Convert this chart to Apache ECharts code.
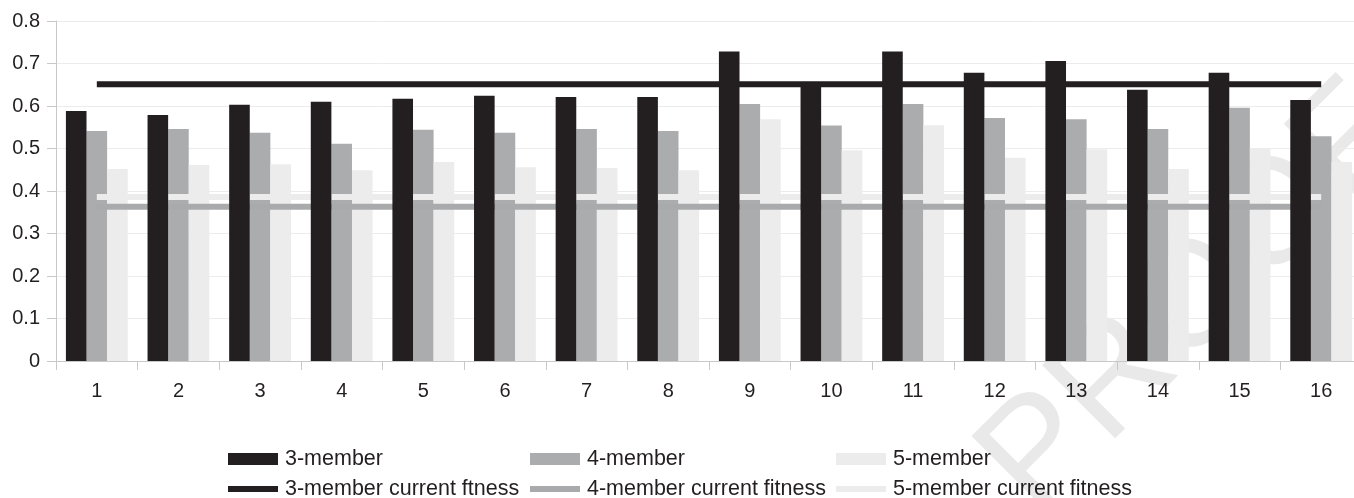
<!DOCTYPE html>
<html>
<head>
<meta charset="utf-8">
<script src="https://cdn.jsdelivr.net/npm/echarts@6/dist/echarts.min.js"></script>
<style>
  html, body { margin: 0; padding: 0; background: #ffffff; overflow: hidden; }
  /* plot runs a little past the right edge of the page */
  #chart { width: 1370px; height: 498px; }
</style>
</head>
<body>
<div id="chart"></div>
<script>
// Run number on the x axis
const categories = ['1','2','3','4','5','6','7','8','9','10','11','12','13','14','15','16'];

// Fitness per run for each team size
const threeMember = [0.588, 0.579, 0.603, 0.610, 0.617, 0.624, 0.621, 0.621, 0.728, 0.655, 0.728, 0.678, 0.706, 0.638, 0.678, 0.614];
const fourMember  = [0.541, 0.546, 0.537, 0.511, 0.544, 0.537, 0.546, 0.541, 0.605, 0.554, 0.605, 0.572, 0.569, 0.546, 0.596, 0.529];
const fiveMember  = [0.452, 0.461, 0.463, 0.449, 0.468, 0.456, 0.454, 0.449, 0.569, 0.496, 0.555, 0.478, 0.498, 0.452, 0.501, 0.468];

// Current fitness of each team size (flat reference lines)
const threeCurrent = [0.651, 0.651, 0.651, 0.651, 0.651, 0.651, 0.651, 0.651, 0.651, 0.651, 0.651, 0.651, 0.651, 0.651, 0.651, 0.651];
const fourCurrent  = [0.363, 0.363, 0.363, 0.363, 0.363, 0.363, 0.363, 0.363, 0.363, 0.363, 0.363, 0.363, 0.363, 0.363, 0.363, 0.363];
const fiveCurrent  = [0.386, 0.386, 0.386, 0.386, 0.386, 0.386, 0.386, 0.386, 0.386, 0.386, 0.386, 0.386, 0.386, 0.386, 0.386, 0.386];

const seriesNames = ['3-member', '4-member', '5-member',
                     '3-member current ftness', '4-member current fitness', '5-member current fitness'];

const FONT = "'Liberation Sans', Arial, sans-serif";
const TEXT = '#231f20';
const C_DARK = '#231f20', C_MID = '#abacae', C_LIGHT = '#ececec';

const chart = echarts.init(document.getElementById('chart'), null, { renderer: 'canvas' });

function legendItem(name, left, top, isLine) {
  return {
    data: [name],
    left: left,
    top: top,
    orient: 'horizontal',
    padding: 0,
    icon: 'rect',
    itemWidth: 50,
    itemHeight: isLine ? 6 : 12,
    selectedMode: false,
    textStyle: { fontFamily: FONT, fontSize: 21.5, lineHeight: 22, color: TEXT, padding: [0, 0, 0, 2] }
  };
}

const option = {
  animation: false,
  backgroundColor: '#ffffff',
  graphic: [{
    type: 'text',
    z: -10,
    x: 1195,
    y: 300,
    rotation: Math.PI / 4,
    style: {
      text: 'PROOF',
      font: '150px ' + FONT,
      fill: '#e9e9ea',
      align: 'center',
      verticalAlign: 'middle'
    }
  }],
  grid: { left: 56, top: 21, width: 1306, height: 340, containLabel: false },
  legend: [
    legendItem(seriesNames[0], 228, 448, false),
    legendItem(seriesNames[1], 530, 448, false),
    legendItem(seriesNames[2], 836, 448, false),
    legendItem(seriesNames[3], 228, 478, true),
    legendItem(seriesNames[4], 530, 478, true),
    legendItem(seriesNames[5], 836, 478, true)
  ],
  xAxis: {
    type: 'category',
    data: categories,
    boundaryGap: true,
    axisLine: { show: true, lineStyle: { color: '#c8c8c8', width: 1 } },
    axisTick: { show: true, interval: 0, length: 9, lineStyle: { color: '#c8c8c8' } },
    axisLabel: { interval: 0, margin: 20, fontFamily: FONT, fontSize: 20, color: TEXT },
    splitLine: { show: false }
  },
  yAxis: {
    type: 'value',
    min: 0,
    max: 0.8,
    interval: 0.1,
    axisLine: { show: true, lineStyle: { color: '#c8c8c8', width: 1 } },
    axisTick: { show: true, length: 9, lineStyle: { color: '#c8c8c8' } },
    axisLabel: { margin: 16, fontFamily: FONT, fontSize: 20, color: TEXT },
    splitLine: { show: true, lineStyle: { color: '#ececec', width: 1 } }
  },
  series: [
    { name: seriesNames[0], type: 'bar', data: threeMember, barWidth: 20.6, barGap: '0%', z: 4,
      itemStyle: { color: C_DARK } },
    { name: seriesNames[1], type: 'bar', data: fourMember, barWidth: 20.6, barGap: '0%', z: 1,
      itemStyle: { color: C_MID } },
    { name: seriesNames[2], type: 'bar', data: fiveMember, barWidth: 20.6, barGap: '0%', z: 1,
      itemStyle: { color: C_LIGHT } },
    { name: seriesNames[3], type: 'line', data: threeCurrent, symbol: 'none', z: 3,
      lineStyle: { color: C_DARK, width: 6, cap: 'butt' }, itemStyle: { color: C_DARK } },
    { name: seriesNames[4], type: 'line', data: fourCurrent, symbol: 'none', z: 2,
      lineStyle: { color: '#a9aaac', width: 6, cap: 'butt' }, itemStyle: { color: '#a9aaac' } },
    { name: seriesNames[5], type: 'line', data: fiveCurrent, symbol: 'none', z: 2,
      lineStyle: { color: C_LIGHT, width: 6, cap: 'butt' }, itemStyle: { color: C_LIGHT } }
  ]
};

chart.setOption(option);
</script>
</body>
</html>
